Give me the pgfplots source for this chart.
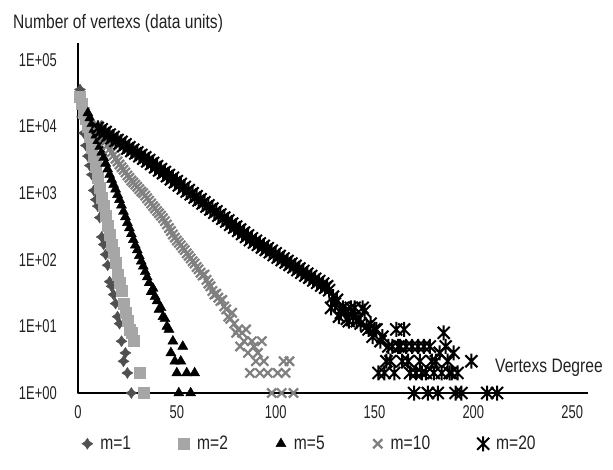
\documentclass[border=0pt]{standalone}
\usepackage{fontspec}
\setmainfont{Liberation Sans}
\usepackage{graphicx}
\usepackage{pgfplots}
\pgfplotsset{compat=1.18}

\definecolor{cMone}{HTML}{505050}
\definecolor{cMtwo}{HTML}{A6A6A6}
\definecolor{cMten}{HTML}{808080}
\definecolor{txt}{HTML}{222222}

% the chart's font is a narrow sans: squeeze Liberation Sans
\newcommand{\nar}[1]{\scalebox{0.8}[1]{#1}}
\newcommand{\tk}[1]{\scalebox{0.7}[1]{#1}}

% four-pointed star (m=1)
\pgfdeclareplotmark{star4}{%
  \pgfpathmoveto{\pgfqpoint{0pt}{\pgfplotmarksize}}%
  \pgfpathlineto{\pgfqpoint{0.4\pgfplotmarksize}{0.4\pgfplotmarksize}}%
  \pgfpathlineto{\pgfqpoint{\pgfplotmarksize}{0pt}}%
  \pgfpathlineto{\pgfqpoint{0.4\pgfplotmarksize}{-0.4\pgfplotmarksize}}%
  \pgfpathlineto{\pgfqpoint{0pt}{-\pgfplotmarksize}}%
  \pgfpathlineto{\pgfqpoint{-0.4\pgfplotmarksize}{-0.4\pgfplotmarksize}}%
  \pgfpathlineto{\pgfqpoint{-\pgfplotmarksize}{0pt}}%
  \pgfpathlineto{\pgfqpoint{-0.4\pgfplotmarksize}{0.4\pgfplotmarksize}}%
  \pgfpathclose\pgfusepathqfillstroke}
% excel-like star: X plus vertical bar (m=20)
\pgfdeclareplotmark{xstar}{%
  \pgfpathmoveto{\pgfqpoint{0pt}{\pgfplotmarksize}}%
  \pgfpathlineto{\pgfqpoint{0pt}{-\pgfplotmarksize}}%
  \pgfpathmoveto{\pgfqpoint{-0.8\pgfplotmarksize}{-0.8\pgfplotmarksize}}%
  \pgfpathlineto{\pgfqpoint{0.8\pgfplotmarksize}{0.8\pgfplotmarksize}}%
  \pgfpathmoveto{\pgfqpoint{-0.8\pgfplotmarksize}{0.8\pgfplotmarksize}}%
  \pgfpathlineto{\pgfqpoint{0.8\pgfplotmarksize}{-0.8\pgfplotmarksize}}%
  \pgfusepathqstroke}

\begin{document}
\begin{tikzpicture}[font=\fontsize{19.5}{22}\selectfont, text=txt]
\useasboundingbox (-78pt,-76pt) rectangle (535pt,393pt);
\begin{axis}[
    at={(0,0)}, anchor=south west,
    scale only axis,
    width=510pt, height=350pt,
    ymode=log,
    xmin=0, xmax=258,
    ymin=1, ymax=180000,
    axis x line=bottom, axis y line=left,
    axis line style={-, black, line width=1.5pt},
    major tick length=0pt,
    xtick={0,50,100,150,200,250},
    xticklabels={\tk{0},\tk{50},\tk{100},\tk{150},\tk{200},\tk{250}},
    ytick={1,10,100,1000,10000,100000},
    yticklabels={\tk{1E+00},\tk{1E+01},\tk{1E+02},\tk{1E+03},\tk{1E+04},\tk{1E+05}},
    ticklabel style={font=\fontsize{18.5}{20}\selectfont, text=txt},
    yticklabel style={anchor=east, inner sep=0pt, xshift=-21pt},
    xticklabel style={anchor=north, inner sep=0pt, yshift=-12pt},
    clip=false,
    legend columns=5,
    legend style={at={(0.452,-0.145)}, anchor=center, draw=none, fill=none,
        inner sep=0pt, nodes={inner sep=0pt}, font=\fontsize{19.5}{22}\selectfont,
        /tikz/every even column/.append style={column sep=47pt}},
    legend cell align=left,
    legend image code/.code={%
        \path[draw=none, fill=none] (-6pt,-5pt) rectangle (13pt,5pt);
        \draw[mark repeat=2,mark phase=2,#1]
        plot coordinates {(-1pt,0pt) (0pt,0pt) (1pt,0pt)};},
]
% m=1
\addplot[only marks, mark=star4, mark size=5.5pt, color=cMone, fill=cMone] coordinates {
(1,36000) (2,14000) (3,8000) (4,5200) (5,3600) (6,2600) (7,1900) (8,1100)
(9,800) (10,640) (11,430) (12,220) (13,170) (14,120) (15,83) (16,47)
(17,40) (18,30) (19,22) (20,14) (21,11) (22,6) (23,3) (24,4) (25,2) (27,1)
};
% m=2
\addplot[only marks, mark=square*, mark size=5.5pt, color=cMtwo, fill=cMtwo] coordinates {
(1,28000) (2,22000) (3,16000) (4,13000) (5,10000) (6,7000) (7,4900) (8,3500)
(9,2500) (10,1700) (11,1200) (12,860) (13,640) (14,460) (15,330) (16,240)
(17,170) (18,130) (19,90) (20,60) (21,45) (22,34) (23,22) (24,16) (25,12)
(26,9) (27,8) (28,6) (31,2) (33,1)
};
% m=5
\addplot[only marks, mark=triangle*, mark size=5.8pt, color=black, fill=black] coordinates {
(5,16000) (6,13500) (7,11000) (8,9000) (9,7400) (10,6100) (11,5000) (12,4100)
(13,3400) (14,2800) (15,2300) (16,1900) (17,1600) (18,1350) (19,1150) (20,950)
(21,800) (22,660) (23,530) (24,440) (25,360) (26,300) (27,245) (28,200)
(29,165) (30,140) (31,115) (32,95) (33,80) (34,66) (35,55) (36,45) (37,33)
(38,37) (39,28) (40,24) (41,18) (42,19) (43,14) (44,13) (45,10) (46,9) (47,4)
(48,6) (49,3) (50,2) (51,1) (52,3) (53,5) (55,2) (57,1) (59,2)
};
% m=10
\addplot[only marks, mark=x, mark size=6.5pt, line width=2.2pt, color=cMten] coordinates {
(10,10500) (11,9000) (12,7900) (13,6900) (14,6000) (15,5300) (16,4600) (17,4100)
(18,3700) (19,3300) (20,3000) (21,2700) (22,2450) (23,2250) (24,2050) (25,1850)
(26,1700) (27,1550) (28,1450) (29,1350) (30,1250) (31,1150) (32,1060) (33,1000)
(34,920) (35,840) (36,770) (37,700) (38,640) (39,590) (40,540) (41,500)
(42,460) (43,420) (44,380) (45,340) (46,300) (47,270) (48,240) (49,215)
(50,195) (51,180) (52,165) (53,150) (54,140) (55,125) (56,115) (57,105)
(58,95) (59,88) (60,78) (61,72) (62,64) (63,58) (64,60) (65,50) (66,44)
(67,40) (68,34) (69,30) (70,31) (71,27) (72,24) (73,25) (74,20) (75,18)
(76,14) (77,13) (78,16) (79,11) (80,8) (81,9) (82,5) (83,8) (84,6) (85,9)
(86,4) (87,2) (88,6) (89,5) (90,3) (91,4) (92,2) (93,6) (94,3) (96,2)
(98,1) (101,2) (103,1) (104,3) (105,2) (107,3) (109,1)
};
% m=20
\addplot[only marks, mark=xstar, mark size=7.5pt, line width=2pt, color=black] coordinates {
(10,9550) (11,8600) (12,9100) (13,8000) (14,8300) (15,7300) (16,7600) (17,6700)
(18,7000) (19,6100) (20,6300) (21,5600) (22,5900) (23,5100) (24,5400) (25,4700)
(26,4900) (27,4300) (28,4500) (29,3950) (30,4100) (31,3600) (32,3750) (33,3300)
(34,3450) (35,3000) (36,3150) (37,2750) (38,2850) (39,2450) (40,2550) (41,2200)
(42,2300) (43,2000) (44,2080) (45,1800) (46,1870) (47,1620) (48,1700) (49,1460)
(50,1520) (51,1310) (52,1380) (53,1180) (54,1240) (55,1060) (56,1110) (57,960)
(58,1000) (59,860) (60,900) (61,780) (62,810) (63,700) (64,730) (65,630)
(66,660) (67,570) (68,590) (69,510) (70,535) (71,460) (72,480) (73,415)
(74,430) (75,375) (76,390) (77,335) (78,350) (79,305) (80,315) (81,272)
(82,285) (83,245) (84,256) (85,220) (86,232) (87,198) (88,210) (89,182)
(90,193) (91,168) (92,176) (93,153) (94,162) (95,141) (96,149) (97,130)
(98,137) (99,118) (100,125) (101,108) (102,114) (103,99) (104,105) (105,91)
(106,96) (107,84) (108,88) (109,77) (110,81) (111,70) (112,74) (113,64)
(114,68) (115,58) (116,62) (117,54) (118,57) (119,49) (120,52) (121,45)
(122,48) (123,41) (124,44) (125,38) (126,40) (127,35) (128,19) (129,28)
(130,22) (131,25) (132,14) (133,16) (134,19) (135,17) (136,13) (137,12)
(138,19) (139,14) (140,19) (141,12) (142,13) (143,11) (144,19) (145,17)
(146,10) (147,9) (148,11) (149,7) (150,9) (151,9) (152,2) (153,6) (154,7)
(155,2) (156,3) (157,5) (158,3) (159,5) (160,2) (161,9) (162,5) (163,5)
(164,3) (165,9) (166,5) (167,3) (168,2) (169,5) (170,1) (171,2) (172,5)
(173,3) (174,2) (175,5) (176,2) (177,1) (178,5) (179,3) (180,2) (181,3)
(182,1) (183,4) (184,2) (185,8) (186,5) (187,3) (188,2) (189,2) (190,4)
(191,1) (192,2) (194,1) (199,3) (207,1) (212,1)
};
\legend{\nar{m=1}, \nar{m=2}, \nar{m=5}, \nar{m=10}, \nar{m=20}}
\end{axis}
\node[anchor=base west, inner sep=0pt] at (-65pt,364pt) {\nar{Number of vertexs (data units)}};
\node[anchor=base west, inner sep=0pt] at (417pt,21pt) {\nar{Vertexs Degree}};
\end{tikzpicture}
\end{document}
